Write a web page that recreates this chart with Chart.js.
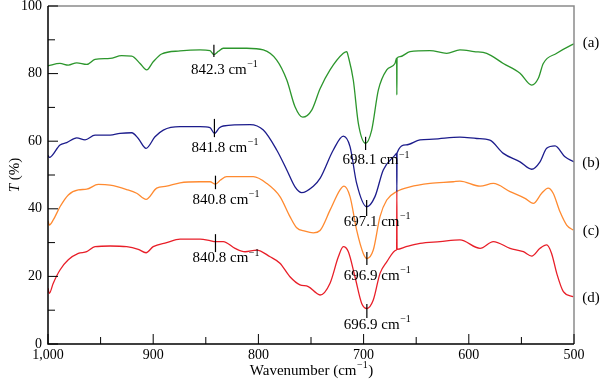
<!DOCTYPE html>
<html>
<head>
<meta charset="utf-8">
<script src="https://cdn.jsdelivr.net/npm/chart.js@4.4.0/dist/chart.umd.min.js"></script>
<style>
  body { margin: 0; background: #fff; }
</style>
</head>
<body>
<canvas id="myChart" width="600" height="385"></canvas>
<script>
// spectra (wavenumber in cm-1, transmittance in %)
var waveA = [1000, 988.6, 980.7, 972.7, 963.2, 955.3, 941, 930, 920.4, 912.5,
  906.2, 900, 892, 874.5, 855.5, 846, 842.3, 838, 833.4, 811.1,
  795.3, 782.6, 773, 765.2, 757.9, 749.3, 741.4, 731.9, 719.3, 716,
  714.5, 709.8, 705, 698.1, 692.3, 686, 678, 670.2, 668.6, 668.4,
  668.2, 665.4, 655.9, 636.9, 621, 608.4, 595, 583, 567.2, 551.3,
  540.2, 533.9, 529.2, 516.4, 502.2, 500];
var transA = [82.3, 83.0, 82.5, 83.2, 82.7, 84.2, 84.5, 85.3, 85.2, 83,
  81.1, 83.5, 85.8, 86.7, 87, 86.8, 85.6, 86.6, 87.5, 87.5,
  87, 84, 78.1, 70.2, 67.1, 69.2, 75.5, 81.1, 86, 86.5,
  85, 78.1, 65.3, 59.4, 63.3, 75.1, 81.1, 83, 84.6, 73.7,
  84.6, 85, 86.5, 86.8, 86, 87, 86.5, 86, 83, 80.1,
  76.6, 78.6, 83, 86, 88.5, 88.8];

var waveB = [1000, 998.8, 988.6, 982.2, 972.7, 964.8, 955.3, 941, 931.6, 920.4,
  914.2, 906.8, 898.3, 890.4, 874.5, 855.5, 846, 841.8, 837, 833.4,
  808, 795.3, 782.6, 773, 765.2, 758.9, 747.8, 741.4, 728.8, 719.3,
  712.9, 706.6, 697.1, 689.2, 681.3, 668.8, 668.6, 668.4, 668.2, 659.6,
  646.4, 633.8, 608.4, 592.5, 580, 567.2, 551.3, 540.2, 532.3, 526,
  518, 508.6, 500];
var transB = [55.8, 55.2, 58.9, 59.6, 61, 60.4, 61.8, 61.8, 62.3, 62.5,
  60.8, 57.9, 61.3, 63.3, 64.3, 64.3, 64, 62.3, 64, 64.5,
  64.9, 63.3, 57.4, 51.5, 46.5, 44.8, 46.7, 49, 57.4, 61.5,
  58.4, 47.5, 40.6, 43.6, 51.5, 56.4, 56.5, 45, 56.5, 58.9,
  60.4, 60.6, 61.2, 60.8, 60.3, 56.4, 53.9, 51.7, 53.9, 57.9,
  58.6, 55.4, 53.9];

var waveC = [1000, 998.8, 995, 988.6, 980.7, 971.2, 963.2, 952.2, 941, 925.2,
  915.7, 906.8, 896.7, 887.2, 874.5, 855.5, 846, 840.8, 836, 830.2,
  804.8, 792.1, 779.5, 770, 763.6, 755.7, 747.8, 741.4, 731.9, 722.4,
  718.6, 712.9, 706.6, 700.3, 696.9, 690.8, 684.4, 678, 668.6, 655.9,
  636.9, 614.8, 608.4, 589.3, 576.7, 560.8, 546.6, 538.7, 530.7, 524.6,
  519.8, 513.3, 507, 500.7];
var transC = [36.5, 35.2, 36.7, 40.6, 44.1, 45.6, 45.8, 47.2, 47, 45.7,
  44.6, 42.8, 46.1, 46.7, 47.7, 48, 48, 47.3, 48.5, 49.5,
  49.5, 47.5, 43.6, 37.7, 34.4, 33.4, 32.9, 33.6, 39.6, 45.6,
  46.7, 43.6, 33.7, 26.8, 25.3, 27.8, 37.7, 42.6, 45.1, 46.5,
  47.5, 48, 48.2, 46.7, 47.5, 45.1, 43.1, 41.6, 44.6, 46.1,
  44.6, 39.1, 35.2, 33.7];

var waveD = [1000, 998.8, 995, 988.6, 980.7, 971.2, 963.2, 955.3, 941, 925.2,
  914.2, 906.8, 900, 887.2, 874.5, 855.5, 846, 840.8, 833.4, 822.2,
  812.7, 801.6, 788.9, 779.5, 770, 760.5, 752.6, 744.6, 741.4, 731.9,
  724, 719.3, 714.5, 708.2, 701.8, 696.9, 690.8, 684.4, 678, 668.8,
  668.6, 668.4, 668.2, 659.6, 646.4, 627.4, 608.4, 589.3, 576.7, 560.8,
  548.1, 540.2, 532.3, 526, 521.3, 516.4, 510.1, 500.7];
var transD = [16.5, 15, 18, 21.9, 24.9, 26.8, 27.3, 28.8, 29, 28.8,
  28, 27, 28.8, 30, 31, 31, 30.6, 30.3, 30.3, 28.3,
  27.3, 27.8, 25.8, 23.9, 19.9, 17.5, 17, 15, 14.5, 18,
  25.8, 28.8, 27.3, 19.9, 12, 10.5, 13, 20.9, 24.3, 27.8,
  27.8, 45.5, 28, 28.8, 29.8, 30.3, 30.8, 28.3, 30.3, 28.3,
  27.3, 26, 28.3, 29.3, 26.8, 20.9, 15.5, 14];

var seriesLabels = ["(a)", "(b)", "(c)", "(d)"];
var seriesLabelY = [89, 53.6, 33.4, 13.6];
var xTicks = [1000, 900, 800, 700, 600, 500];
var yTicks = [0, 20, 40, 60, 80, 100];

// peak markers: wavenumber, top/bottom of the marker, where the text sits
var peakWave = [842.3, 841.8, 840.8, 840.8, 698.1, 697.1, 696.9, 696.9];
var peakTop = [88.5, 66.6, 49.8, 32.5, 61.3, 42.6, 27.2, 11.8];
var peakBottom = [84.9, 61.2, 45.8, 27.2, 57.4, 37.9, 23.4, 7.7];
var peakTextY = [81.1, 58, 42.6, 25.4, 54.4, 36.1, 20.1, 5.6];

function points(w, t) {
  var p = w.map(function (x, i) { return { x: x, y: t[i] }; });
  return p.reverse();
}

var SERIF = '"Liberation Serif", "DejaVu Serif", serif';

function drawSup(ctx, x, y, main, sup, tail, size, align) {
  ctx.font = size + 'px ' + SERIF;
  var w1 = ctx.measureText(main).width;
  var w3 = tail ? ctx.measureText(tail).width : 0;
  ctx.font = Math.round(size * 0.68) + 'px ' + SERIF;
  var w2 = ctx.measureText(sup).width;
  var total = w1 + w2 + w3;
  var x0 = align === 'center' ? x - total / 2 : x;
  ctx.textAlign = 'left';
  ctx.textBaseline = 'middle';
  ctx.font = size + 'px ' + SERIF;
  ctx.fillText(main, x0, y);
  ctx.font = Math.round(size * 0.68) + 'px ' + SERIF;
  ctx.fillText(sup, x0 + w1 + 0.5, y - size * 0.35);
  if (tail) {
    ctx.font = size + 'px ' + SERIF;
    ctx.fillText(tail, x0 + w1 + w2 + 1, y);
  }
}

var decorations = {
  id: 'decorations',
  afterDraw: function (chart) {
    var ctx = chart.ctx;
    var a = chart.chartArea;
    var xs = chart.scales.x, ys = chart.scales.y;
    ctx.save();

    // frame: grey top/right, black left/bottom
    ctx.lineWidth = 1.5;
    ctx.strokeStyle = '#8a8a8a';
    ctx.beginPath();
    ctx.moveTo(a.left, a.top); ctx.lineTo(a.right, a.top); ctx.lineTo(a.right, a.bottom);
    ctx.stroke();
    ctx.strokeStyle = '#000';
    ctx.beginPath();
    ctx.moveTo(a.left, a.top); ctx.lineTo(a.left, a.bottom); ctx.lineTo(a.right, a.bottom);
    ctx.stroke();

    // inward ticks
    ctx.lineWidth = 1;
    ctx.beginPath();
    for (var v = 0; v <= 100; v += 10) {
      var py = ys.getPixelForValue(v);
      var len = v % 20 === 0 ? 10 : 7;
      ctx.moveTo(a.left, py); ctx.lineTo(a.left + len, py);
    }
    for (var w = 500; w <= 1000; w += 50) {
      var px = xs.getPixelForValue(w);
      var l2 = w % 100 === 0 ? 10 : 7;
      ctx.moveTo(px, a.bottom); ctx.lineTo(px, a.bottom - l2);
    }
    ctx.stroke();

    // peak markers and labels
    ctx.fillStyle = '#000';
    ctx.lineWidth = 1.2;
    for (var i = 0; i < peakWave.length; i++) {
      var mx = xs.getPixelForValue(peakWave[i]);
      ctx.beginPath();
      ctx.moveTo(mx, ys.getPixelForValue(peakTop[i]));
      ctx.lineTo(mx, ys.getPixelForValue(peakBottom[i]));
      ctx.stroke();
      drawSup(ctx, mx - 23, ys.getPixelForValue(peakTextY[i]), peakWave[i].toFixed(1) + ' cm', '\u22121', '', 15, 'left');
    }

    // series labels at the right
    ctx.font = '15px ' + SERIF;
    ctx.textAlign = 'center';
    ctx.textBaseline = 'middle';
    for (var j = 0; j < seriesLabels.length; j++) {
      ctx.fillText(seriesLabels[j], a.right + 17, ys.getPixelForValue(seriesLabelY[j]));
    }

    // axis titles
    drawSup(ctx, (a.left + a.right) / 2, 371, 'Wavenumber (cm', '\u22121', ')', 15, 'center');

    ctx.translate(15, (a.top + a.bottom) / 2);
    ctx.rotate(-Math.PI / 2);
    ctx.font = 'italic 15px ' + SERIF;
    var wT = ctx.measureText('T').width;
    ctx.font = '15px ' + SERIF;
    var wR = ctx.measureText(' (%)').width;
    var sx = -(wT + wR) / 2;
    ctx.textAlign = 'left';
    ctx.font = 'italic 15px ' + SERIF;
    ctx.fillText('T', sx, 0);
    ctx.font = '15px ' + SERIF;
    ctx.fillText(' (%)', sx + wT, 0);
    ctx.restore();
  }
};

function line(label, w, t, color) {
  return {
    label: label,
    data: points(w, t),
    borderColor: color,
    borderWidth: 1.3,
    pointRadius: 0,
    fill: false,
    cubicInterpolationMode: 'monotone'
  };
}

var ctx = document.getElementById("myChart").getContext('2d');
var myChart = new Chart(ctx, {
  type: 'line',
  data: {
    datasets: [
      line(seriesLabels[0], waveA, transA, 'rgb(44, 150, 44)'),
      line(seriesLabels[1], waveB, transB, 'rgb(28, 28, 140)'),
      line(seriesLabels[2], waveC, transC, 'rgb(255, 138, 48)'),
      line(seriesLabels[3], waveD, transD, 'rgb(232, 30, 40)')
    ]
  },
  options: {
    responsive: false,
    animation: false,
    layout: { padding: { top: 6, right: 26, left: 0, bottom: 0 } },
    plugins: { legend: { display: false }, tooltip: { enabled: false } },
    scales: {
      x: {
        type: 'linear',
        reverse: true,
        min: 500,
        max: 1000,
        afterBuildTicks: function (s) { s.ticks = xTicks.map(function (v) { return { value: v }; }); },
        ticks: {
          color: '#000',
          font: { family: SERIF, size: 14 },
          padding: 3,
          maxRotation: 0,
          callback: function (v) { return v.toLocaleString('en-US'); }
        },
        grid: { display: false, drawTicks: false },
        border: { display: false },
        afterFit: function (s) { s.height = 41; s.paddingLeft = 0; s.paddingRight = 0; }
      },
      y: {
        min: 0,
        max: 100,
        afterBuildTicks: function (s) { s.ticks = yTicks.map(function (v) { return { value: v }; }); },
        ticks: {
          color: '#000',
          font: { family: SERIF, size: 14 },
          padding: 6
        },
        grid: { display: false, drawTicks: false },
        border: { display: false },
        afterFit: function (s) { s.width = 48; s.paddingTop = 0; s.paddingBottom = 0; }
      }
    }
  },
  plugins: [decorations]
});
</script>
</body>
</html>
